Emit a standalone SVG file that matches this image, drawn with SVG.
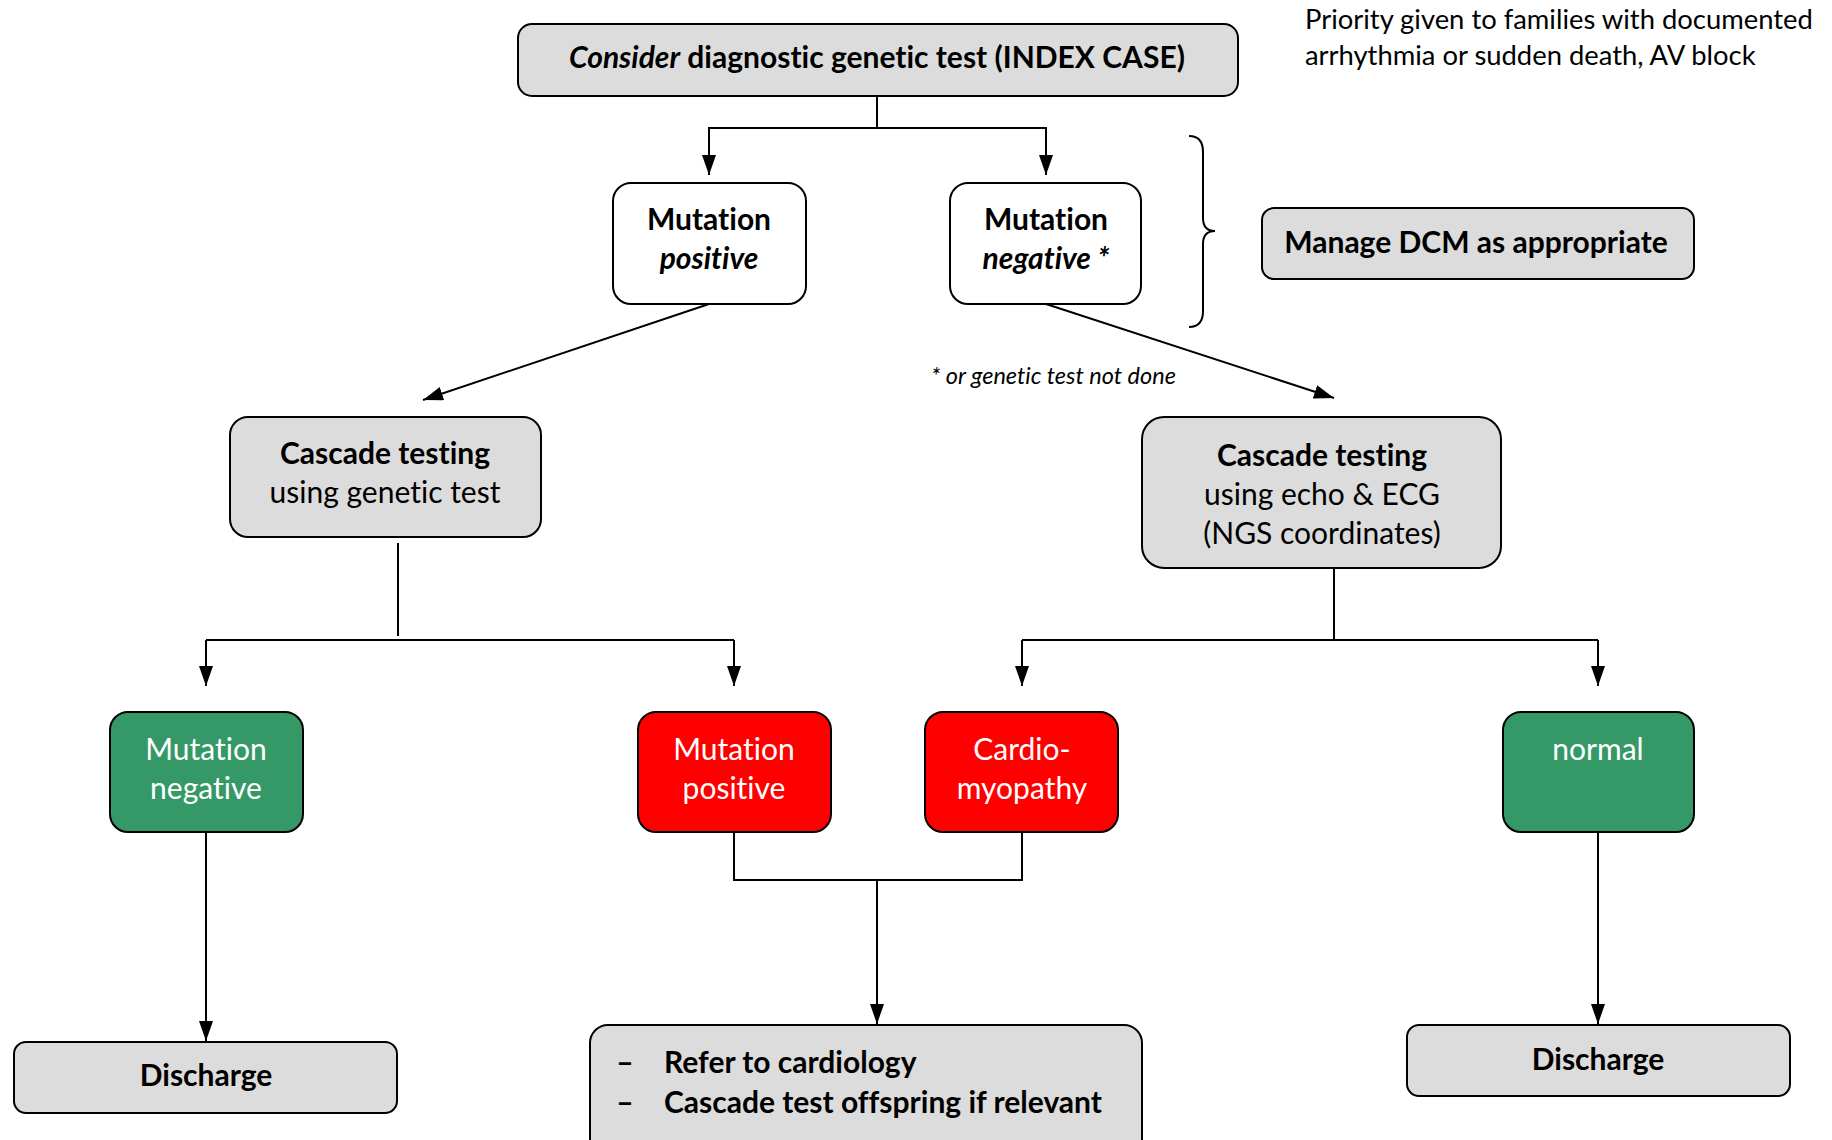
<svg xmlns="http://www.w3.org/2000/svg" width="1832" height="1140" viewBox="0 0 1832 1140">
  <style>
    .box { stroke: #000; stroke-width: 2; }
    .grey { fill: #dcdcdc; }
    .white { fill: #ffffff; }
    .green { fill: #349966; }
    .red { fill: #ff0000; }
    text { font-family: "Lato", "Open Sans", "Liberation Sans", sans-serif; text-anchor: middle; font-variant-ligatures: none; }
    .b { font-weight: bold; font-size: 30px; fill: #000; }
    .r { font-size: 30px; fill: #000; }
    .w { font-size: 30px; fill: #fff; }
    .note { font-size: 27.4px; fill: #000; text-anchor: start; }
    .small { font-size: 23.5px; font-style: italic; fill: #000; text-anchor: start; }
    .start { text-anchor: start; }
    .conn { fill: none; stroke: #000; stroke-width: 2; }
  </style>
  <defs>
    <marker id="arrow" markerUnits="userSpaceOnUse" markerWidth="20" markerHeight="14" viewBox="0 0 20 14" refX="20" refY="7" orient="auto">
      <path d="M0,0 L20,7 L0,14 Z" fill="#000"/>
    </marker>
  </defs>

  <rect width="1832" height="1140" fill="#ffffff"/>

  <!-- connectors -->
  <g id="connectors">
    <path class="conn" d="M877,96 V128 H709 V175" marker-end="url(#arrow)"/>
    <path class="conn" d="M877,128 H1046 V175" marker-end="url(#arrow)"/>
    <path class="conn" d="M709,304 L423,400" marker-end="url(#arrow)"/>
    <path class="conn" d="M1046,304 L1334,398" marker-end="url(#arrow)"/>
    <path class="conn" d="M398,543 V636"/>
    <path class="conn" d="M206,640 H734"/>
    <path class="conn" d="M206,640 V686" marker-end="url(#arrow)"/>
    <path class="conn" d="M734,640 V686" marker-end="url(#arrow)"/>
    <path class="conn" d="M1334,568 V640"/>
    <path class="conn" d="M1022,640 H1598"/>
    <path class="conn" d="M1022,640 V686" marker-end="url(#arrow)"/>
    <path class="conn" d="M1598,640 V686" marker-end="url(#arrow)"/>
    <path class="conn" d="M734,832 V880 H1022 V832"/>
    <path class="conn" d="M877,880 V1024" marker-end="url(#arrow)"/>
    <path class="conn" d="M206,832 V1041" marker-end="url(#arrow)"/>
    <path class="conn" d="M1598,832 V1024" marker-end="url(#arrow)"/>
    <!-- brace grouping both test outcomes -->
    <path class="conn" d="M1189,136 Q1203,136 1203,152 L1203,218 Q1203,231 1215,231 Q1203,231 1203,244 L1203,311 Q1203,327 1189,327"/>
  </g>

  <g id="index-case">
    <rect class="box grey" x="518" y="24" width="720" height="72" rx="14"/>
    <text class="b" x="877" y="68" font-size="29.4"><tspan font-style="italic">Consider</tspan> diagnostic genetic test (INDEX CASE)</text>
  </g>

  <g id="priority-note">
    <text class="note" x="1305" y="29">Priority given to families with documented</text>
    <text class="note" x="1305" y="65">arrhythmia or sudden death, AV block</text>
  </g>

  <g id="index-positive">
    <rect class="box white" x="613" y="183" width="193" height="121" rx="18"/>
    <text class="b" x="709" y="230">Mutation</text>
    <text class="b" x="709" y="269" font-style="italic">positive</text>
  </g>

  <g id="index-negative">
    <rect class="box white" x="950" y="183" width="191" height="121" rx="18"/>
    <text class="b" x="1046" y="230">Mutation</text>
    <text class="b" x="1046" y="269" font-style="italic">negative *</text>
  </g>

  <g id="manage-dcm">
    <rect class="box grey" x="1262" y="208" width="432" height="71" rx="12"/>
    <text class="b" x="1476" y="253">Manage DCM as appropriate</text>
  </g>

  <g id="footnote">
    <text class="small" x="931" y="384">* or genetic test not done</text>
  </g>

  <g id="cascade-genetic">
    <rect class="box grey" x="230" y="417" width="311" height="120" rx="18"/>
    <text class="b" x="385" y="464">Cascade testing</text>
    <text class="r" x="385" y="503">using genetic test</text>
  </g>

  <g id="cascade-clinical">
    <rect class="box grey" x="1142" y="417" width="359" height="151" rx="22"/>
    <text class="b" x="1322" y="466">Cascade testing</text>
    <text class="r" x="1322" y="505">using echo &amp; ECG</text>
    <text class="r" x="1322" y="544">(NGS coordinates)</text>
  </g>

  <g id="relative-negative">
    <rect class="box green" x="110" y="712" width="193" height="120" rx="18"/>
    <text class="w" x="206" y="760">Mutation</text>
    <text class="w" x="206" y="799">negative</text>
  </g>

  <g id="relative-positive">
    <rect class="box red" x="638" y="712" width="193" height="120" rx="18"/>
    <text class="w" x="734" y="760">Mutation</text>
    <text class="w" x="734" y="799">positive</text>
  </g>

  <g id="relative-cardiomyopathy">
    <rect class="box red" x="925" y="712" width="193" height="120" rx="18"/>
    <text class="w" x="1022" y="760">Cardio-</text>
    <text class="w" x="1022" y="799">myopathy</text>
  </g>

  <g id="relative-normal">
    <rect class="box green" x="1503" y="712" width="191" height="120" rx="18"/>
    <text class="w" x="1598" y="760">normal</text>
  </g>

  <g id="discharge-left">
    <rect class="box grey" x="14" y="1042" width="383" height="71" rx="12"/>
    <text class="b" x="206" y="1086">Discharge</text>
  </g>

  <g id="refer-cardiology">
    <rect class="box grey" x="590" y="1025" width="552" height="140" rx="18"/>
    <text class="b" x="625" y="1073">–</text>
    <text class="b start" x="664" y="1073">Refer to cardiology</text>
    <text class="b" x="625" y="1113">–</text>
    <text class="b start" x="664" y="1113">Cascade test offspring if relevant</text>
  </g>

  <g id="discharge-right">
    <rect class="box grey" x="1407" y="1025" width="383" height="71" rx="12"/>
    <text class="b" x="1598" y="1070">Discharge</text>
  </g>
</svg>
